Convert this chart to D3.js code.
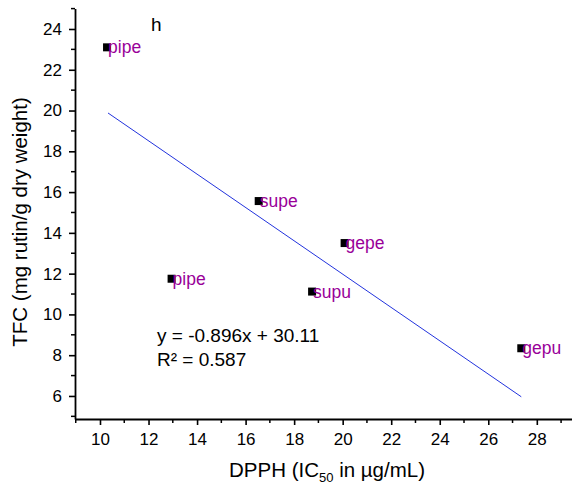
<!DOCTYPE html>
<html>
<head>
<meta charset="utf-8">
<style>
  body { margin: 0; background: #fff; }
  text { font-family: "Liberation Sans", Arial, sans-serif; }
</style>
</head>
<body>
<script src="https://d3js.org/d3.v7.min.js"></script>
<script>
  // Sample points
  var labels = ['pipe', 'pipe', 'supe', 'gepe', 'supu', 'gepu'];
  var dpph = [10.29, 12.95, 16.54, 20.08, 18.74, 27.36];
  var tfc = [23.1, 11.75, 15.56, 13.5, 11.12, 8.34];

  // Fit line endpoints as drawn
  var fitX = [10.33, 27.36];
  var fitY = [19.88, 5.96];

  var xTicks = [10, 12, 14, 16, 18, 20, 22, 24, 26, 28];
  var yTicks = [6, 8, 10, 12, 14, 16, 18, 20, 22, 24];

  var W = 572, H = 490;
  var svg = d3.select('body').append('svg')
    .attr('width', W)
    .attr('height', H);

  // Scales
  var x = d3.scaleLinear().domain([8.97, 29.45]).range([75, 572]);
  var y = d3.scaleLinear().domain([4.87, 25]).range([419, 8.6]);

  // minor ticks at the odd values
  var xMinor = d3.range(9, 30, 1).filter(function(v) { return v % 2 === 1; });
  var yMinor = d3.range(5, 26, 1).filter(function(v) { return v % 2 === 1; });

  // X axis
  var xAxis = svg.append('g').attr('transform', 'translate(0,419)');
  xAxis.call(d3.axisBottom(x).tickValues(xTicks).tickSize(6).tickPadding(8).tickSizeOuter(0));
  xAxis.selectAll('.minor').data(xMinor).enter().append('line')
    .attr('class', 'minor')
    .attr('x1', function(d) { return x(d); })
    .attr('x2', function(d) { return x(d); })
    .attr('y1', 0).attr('y2', 4)
    .attr('stroke', '#000').attr('stroke-width', 1.5);

  // Y axis
  var yAxis = svg.append('g').attr('transform', 'translate(75,0)');
  yAxis.call(d3.axisLeft(y).tickValues(yTicks).tickSize(6).tickPadding(7).tickSizeOuter(0));
  yAxis.selectAll('.minor').data(yMinor).enter().append('line')
    .attr('class', 'minor')
    .attr('y1', function(d) { return y(d); })
    .attr('y2', function(d) { return y(d); })
    .attr('x1', 0).attr('x2', -4)
    .attr('stroke', '#000').attr('stroke-width', 1.5);

  svg.selectAll('.domain').attr('stroke', '#000').attr('stroke-width', 1.8);
  svg.selectAll('.tick line').attr('stroke', '#000').attr('stroke-width', 1.6);
  svg.selectAll('.tick text')
    .attr('font-size', '17px')
    .attr('font-family', '"Liberation Sans", Arial, sans-serif')
    .attr('fill', '#000');

  // Axis titles
  var xt = svg.append('text')
    .attr('x', 327).attr('y', 477)
    .attr('text-anchor', 'middle')
    .attr('font-size', '20.5px')
    .attr('fill', '#000');
  xt.append('tspan').text('DPPH (IC');
  xt.append('tspan').text('50').attr('font-size', '13px').attr('dy', 5);
  xt.append('tspan').text(' in \u00b5g/mL)').attr('dy', -5);

  svg.append('text')
    .attr('transform', 'translate(27,222) rotate(-90)')
    .attr('text-anchor', 'middle')
    .attr('font-size', '20.5px')
    .attr('fill', '#000')
    .text('TFC (mg rutin/g dry weight)');

  // Panel letter
  svg.append('text')
    .attr('x', 151).attr('y', 31)
    .attr('font-size', '19px')
    .attr('fill', '#000')
    .text('h');

  // Fit line
  svg.append('line')
    .attr('x1', x(fitX[0])).attr('y1', y(fitY[0]))
    .attr('x2', x(fitX[1])).attr('y2', y(fitY[1]))
    .attr('stroke', '#2233dd')
    .attr('stroke-width', 1);

  // Points
  var pts = d3.range(labels.length).map(function(i) {
    return { label: labels[i], x: dpph[i], y: tfc[i] };
  });

  svg.selectAll('rect.pt').data(pts).enter().append('rect')
    .attr('class', 'pt')
    .attr('x', function(d) { return x(d.x) - 4; })
    .attr('y', function(d) { return y(d.y) - 4; })
    .attr('width', 8).attr('height', 8)
    .attr('fill', '#000');

  svg.selectAll('text.lbl').data(pts).enter().append('text')
    .attr('class', 'lbl')
    .attr('x', function(d) { return x(d.x) + 1; })
    .attr('y', function(d) { return y(d.y) + 6; })
    .attr('font-size', '17.5px')
    .attr('fill', '#990099')
    .text(function(d) { return d.label; });

  // Equation
  svg.append('text')
    .attr('x', 157).attr('y', 342)
    .attr('font-size', '19px')
    .attr('fill', '#000')
    .text('y = -0.896x + 30.11');
  svg.append('text')
    .attr('x', 157).attr('y', 366)
    .attr('font-size', '19px')
    .attr('fill', '#000')
    .text('R\u00b2 = 0.587');
</script>
</body>
</html>
